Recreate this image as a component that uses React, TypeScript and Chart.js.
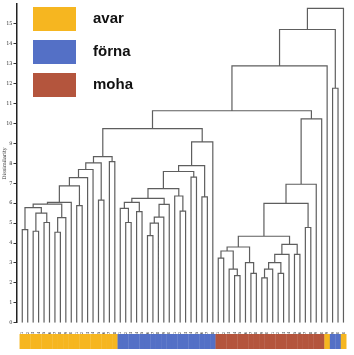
import { useEffect, useRef } from "react";
import { Chart, registerables } from "chart.js";

Chart.register(...registerables);

const groupNames = ["avar", "förna", "moha"];
const groupColors = ["#F6B620", "#5470C6", "#B4553D"];

const leafLabels = [
  "A1", "A2", "A3", "A4", "A5", "A6", "A7", "A8", "A9", "A10",
  "A11", "A12", "A13", "A14", "A15", "A16", "A17", "A18",
  "F1", "F2", "F3", "F4", "F5", "F6", "F7", "F8", "F9", "F10",
  "F11", "F12", "F13", "F14", "F15", "F16", "F17", "F18",
  "M1", "M2", "M3", "M4", "M5", "M6", "M7", "M8", "M9", "M10",
  "M11", "M12", "M13", "M14", "M15", "M16", "M17", "M18", "M19", "M20",
  "A19", "F19", "F20", "A20",
];

const leafGroups = [
  0, 0, 0, 0, 0, 0, 0, 0, 0, 0, 0, 0, 0, 0, 0, 0, 0, 0,
  1, 1, 1, 1, 1, 1, 1, 1, 1, 1, 1, 1, 1, 1, 1, 1, 1, 1,
  2, 2, 2, 2, 2, 2, 2, 2, 2, 2, 2, 2, 2, 2, 2, 2, 2, 2, 2, 2,
  0, 1, 1, 0,
];

// [name, left child, right child, height]; numbers are leaf positions
const merges: [string, string | number, string | number, number][] = [
  ["a1", 0, 1, 4.67],
  ["a2", 2, 3, 4.59],
  ["a3", 4, 5, 5.03],
  ["a4", 6, 7, 4.54],
  ["a5", "a4", 8, 5.28],
  ["a6", "a2", "a3", 5.5],
  ["a7", "a1", "a6", 5.78],
  ["a8", "a7", "a5", 5.95],
  ["a9", "a8", 9, 6.04],
  ["a10", 10, 11, 5.88],
  ["a11", "a9", "a10", 6.87],
  ["a12", "a11", 12, 7.28],
  ["a13", "a12", 13, 7.69],
  ["a14", 14, 15, 6.15],
  ["a15", "a13", "a14", 8.02],
  ["a16", 16, 17, 8.09],
  ["a17", "a15", "a16", 8.34],
  ["f1", 23, 24, 4.37],
  ["f2", "f1", 25, 5.0],
  ["f3", "f2", 26, 5.3],
  ["f4", "f3", 27, 5.94],
  ["f5", 19, 20, 5.03],
  ["f6", 18, "f5", 5.74],
  ["f7", 21, 22, 5.58],
  ["f8", "f6", "f7", 6.04],
  ["f9", "f8", "f4", 6.24],
  ["f10", 29, 30, 5.6],
  ["f11", 28, "f10", 6.36],
  ["f12", "f9", "f11", 6.73],
  ["f13", 31, 32, 7.31],
  ["f14", "f12", "f13", 7.59],
  ["f15", 33, 34, 6.32],
  ["f16", "f14", "f15", 7.89],
  ["f17", "f16", 35, 9.08],
  ["m1", 36, 37, 3.24],
  ["m2", 39, 40, 2.36],
  ["m3", 38, "m2", 2.69],
  ["m4", 42, 43, 2.48],
  ["m5", 41, "m4", 3.02],
  ["m6", "m1", "m3", 3.6],
  ["m7", "m6", "m5", 3.8],
  ["m8", 44, 45, 2.25],
  ["m9", "m8", 46, 2.69],
  ["m10", 47, 48, 2.48],
  ["m11", "m9", "m10", 3.02],
  ["m12", "m11", 49, 3.43],
  ["m13", 50, 51, 3.43],
  ["m14", "m12", "m13", 3.93],
  ["m15", "m7", "m14", 4.34],
  ["m16", 52, 53, 4.78],
  ["m17", "m15", "m16", 5.99],
  ["m18", "m17", 54, 6.95],
  ["m19", "m18", 55, 10.23],
  ["t1", "a17", "f17", 9.74],
  ["t2", "t1", "m19", 10.64],
  ["t3", "t2", 56, 12.89],
  ["t4", 57, 58, 11.77],
  ["t5", "t3", "t4", 14.72],
  ["t6", "t5", 59, 15.78],
];

const yTicks = [0, 1, 2, 3, 4, 5, 6, 7, 8, 9, 10, 11, 12, 13, 14, 15];

function buildSegments() {
  const nodes: Record<string, { x: number; y: number }> = {};
  const get = (id: string | number) =>
    typeof id === "number" ? { x: id, y: 0 } : nodes[id];
  const pts: { x: number; y: number | null }[] = [];
  for (const [name, l, r, h] of merges) {
    const a = get(l);
    const b = get(r);
    nodes[name] = { x: (a.x + b.x) / 2, y: h };
    pts.push({ x: a.x, y: a.y }, { x: a.x, y: h }, { x: b.x, y: h }, { x: b.x, y: b.y });
    pts.push({ x: b.x, y: null });
  }
  return pts;
}

const overlayPlugin = {
  id: "overlay",
  afterDraw(chart: any) {
    const ctx = chart.ctx;
    const xs = chart.scales.x;
    ctx.save();
    // group colour strip
    leafGroups.forEach((g, i) => {
      const x0 = xs.getPixelForValue(i - 0.5);
      const x1 = xs.getPixelForValue(i + 0.5);
      ctx.fillStyle = groupColors[g];
      ctx.fillRect(x0, 334, x1 - x0 + 0.3, 15);
    });
    // legend
    groupNames.forEach((n, i) => {
      const y = 7 + i * 33;
      ctx.fillStyle = groupColors[i];
      ctx.fillRect(33, y, 43, 24);
      ctx.fillStyle = "#111";
      ctx.font = "bold 15px 'Liberation Sans', Arial, sans-serif";
      ctx.textBaseline = "middle";
      ctx.textAlign = "left";
      ctx.fillText(n, 93, y + 12);
    });
    ctx.restore();
  },
};

export default function App() {
  const ref = useRef<HTMLCanvasElement>(null);
  useEffect(() => {
    document.body.style.margin = "0";
    const chart = new Chart(ref.current!, {
      type: "line",
      data: {
        datasets: [
          {
            data: buildSegments() as any,
            borderColor: "#5e5e5e",
            borderWidth: 1.2,
            pointRadius: 0,
            spanGaps: false,
            tension: 0,
          },
        ],
      },
      options: {
        animation: false,
        responsive: false,
        layout: { padding: { left: 0, right: 4, top: 0, bottom: 0 } },
        plugins: { legend: { display: false }, tooltip: { enabled: false } },
        scales: {
          x: {
            type: "linear",
            min: -1.06,
            max: 60.2,
            afterBuildTicks: (s: any) => {
              s.ticks = leafLabels.map((_, i) => ({ value: i }));
            },
            afterFit: (s: any) => {
              s.height = 32.3;
            },
            grid: { display: false },
            border: { display: false },
            ticks: {
              autoSkip: false,
              minRotation: 90,
              maxRotation: 90,
              padding: 1,
              color: "#444",
              font: { size: 4, family: "'DejaVu Sans'" },
              callback: (v: any) => leafLabels[v as number] ?? "",
            },
          },
          y: {
            min: 0,
            max: 16,
            afterBuildTicks: (s: any) => {
              s.ticks = yTicks.map((v) => ({ value: v }));
            },
            afterFit: (s: any) => {
              s.width = 16.5;
            },
            grid: { drawOnChartArea: false, drawTicks: true, tickLength: 3, color: "#333" },
            border: { display: true, color: "#222", width: 1.5 },
            title: {
              display: true,
              text: "Dissimilarity",
              color: "#333",
              font: { size: 5, family: "'DejaVu Serif'" },
              padding: { top: 2, bottom: 0 },
            },
            ticks: {
              padding: 1,
              color: "#333",
              font: { size: 5, family: "'DejaVu Serif'" },
            },
          },
        },
      },
      plugins: [overlayPlugin],
    });
    return () => chart.destroy();
  }, []);
  return (
    <div style={{ width: 354, height: 355 }}>
      <canvas ref={ref} width={354} height={355} />
    </div>
  );
}
